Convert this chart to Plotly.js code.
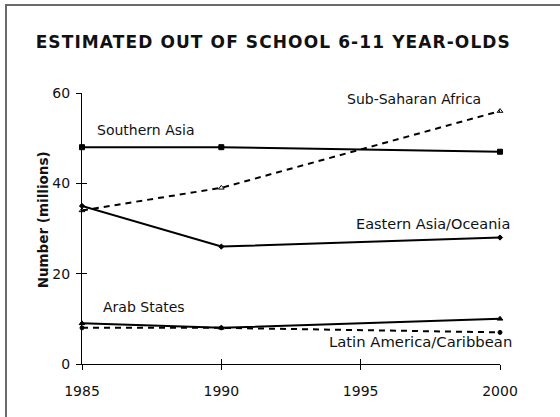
<!DOCTYPE html>
<html>
<head>
<meta charset="utf-8">
<script src="https://cdn.plot.ly/plotly-3.0.1.min.js"></script>
<style>
  html, body { margin: 0; padding: 0; background: #fff; }
  #wrap { position: relative; width: 560px; height: 417px; overflow: hidden; }
  #frame { position: absolute; left: 5px; top: 4px; width: 700px; height: 600px;
           border-left: 2px solid #6a6a6a; border-top: 2px solid #6a6a6a; }
  #chart { position: absolute; left: 0; top: 0; width: 560px; height: 417px; }
  .gtitle { letter-spacing: 1.1px; }
</style>
</head>
<body>
<div id="wrap">
  <div id="frame"></div>
  <div id="chart"></div>
</div>
<script>
// Data
const years = [1985, 1990, 2000];
const southernAsia   = [48, 48, 47];
const subSaharan     = [34, 39, 56];
const easternAsia    = [35, 26, 28];
const arabStates     = [9, 8, 10];
const latinAmerica   = [8, 8, 7];
const xTicks = [1985, 1990, 1995, 2000];
const yTicks = [0, 20, 40, 60];

const seriesNames = ['Southern Asia', 'Sub-Saharan Africa', 'Eastern Asia/Oceania', 'Arab States', 'Latin America/Caribbean'];

const font = 'DejaVu Sans, Verdana, sans-serif';

function tr(name, y, dash, symbol, size) {
  return {
    x: years, y: y, name: name, type: 'scatter', mode: 'lines+markers',
    line: {color: '#000', width: 2, dash: dash},
    marker: {symbol: symbol, size: size, color: '#000', line: {color: '#000', width: 1}},
    cliponaxis: false, showlegend: false, hoverinfo: 'skip'
  };
}

const data = [
  tr(seriesNames[0], southernAsia, 'solid', 'square', 5),
  tr(seriesNames[1], subSaharan, '6px,5px', 'triangle-up-open', 5),
  tr(seriesNames[2], easternAsia, 'solid', 'diamond', 4),
  tr(seriesNames[3], arabStates, 'solid', 'triangle-up', 5),
  tr(seriesNames[4], latinAmerica, '6px,5px', 'circle', 4)
];

function lab(text, x, y, xanchor, xshift, size) {
  return {text: text, x: x, y: y, xref: 'x', yref: 'y', xanchor: xanchor, yanchor: 'middle',
          xshift: xshift || 0, showarrow: false, font: {family: font, size: size || 14, color: '#111'}};
}

const layout = {
  width: 560, height: 417,
  margin: {l: 82, r: 60, t: 93, b: 53},
  paper_bgcolor: 'rgba(0,0,0,0)', plot_bgcolor: 'rgba(0,0,0,0)',
  title: {text: 'ESTIMATED OUT OF SCHOOL 6-11 YEAR-OLDS', x: 0.488, xanchor: 'center', y: 0.9, yanchor: 'middle',
          yref: 'container', font: {family: 'DejaVu Sans, sans-serif', size: 17, color: '#111', weight: 'bold'}},
  xaxis: {range: [1985, 2000], tickvals: xTicks, ticktext: xTicks.map(String), showgrid: false, zeroline: false,
          showline: true, linecolor: '#000', linewidth: 1, ticks: 'outside', ticklen: 5, tickcolor: '#000', tickwidth: 1,
          tickfont: {family: font, size: 14, color: '#111'}, ticklabelstandoff: 9},
  yaxis: {range: [0, 60], tickvals: yTicks, showgrid: false, zeroline: false,
          showline: true, linecolor: '#000', linewidth: 1, ticks: 'outside', ticklen: 5, tickcolor: '#000', tickwidth: 1,
          tickfont: {family: font, size: 14, color: '#111'}, ticklabelstandoff: 3},
  xaxis2: {range: [1985, 2000], overlaying: 'x', tickvals: xTicks, showticklabels: false, showgrid: false, zeroline: false,
           ticks: 'inside', ticklen: 5, tickcolor: '#000', tickwidth: 1, showline: false, anchor: 'y'},
  yaxis2: {range: [0, 60], overlaying: 'y', tickvals: yTicks, showticklabels: false, showgrid: false, zeroline: false,
           ticks: 'inside', ticklen: 5, tickcolor: '#000', tickwidth: 1, showline: false, anchor: 'x'},
  annotations: [
    lab(seriesNames[1], 2000, 58.7, 'right', -17),
    lab(seriesNames[0], 1985, 51.8, 'left', 13),
    lab(seriesNames[2], 2000, 31, 'right', 12, 14.5),
    lab(seriesNames[3], 1985, 12.6, 'left', 19),
    lab(seriesNames[4], 2000, 4.9, 'right', 14, 14.8),
    {text: 'Number (millions)', xref: 'paper', yref: 'y', x: 0, y: 31.8, xshift: -39, xanchor: 'center', yanchor: 'middle',
     textangle: -90, showarrow: false, font: {family: font, size: 13.5, color: '#111', weight: 'bold'}}
  ]
};

// invisible helper so the overlay axes (cross-ticks) are drawn
data.push({x: [years[0]], y: [southernAsia[0]], xaxis: 'x2', yaxis: 'y2', mode: 'markers',
           marker: {opacity: 0}, showlegend: false, hoverinfo: 'skip'});

Plotly.newPlot('chart', data, layout, {displayModeBar: false, staticPlot: true});
</script>
</body>
</html>
